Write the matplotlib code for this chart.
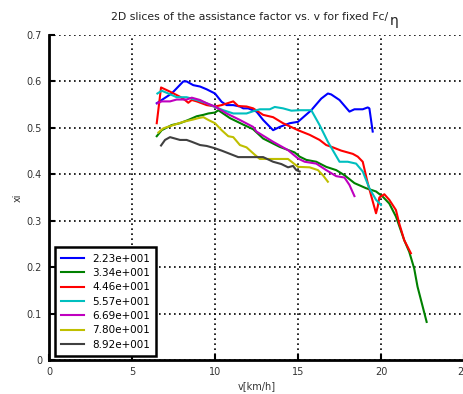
import matplotlib
matplotlib.use("Agg")
import matplotlib.pyplot as plt

plt.rcParams["font.family"] = ["DejaVu Sans"]

# ---------------------------------------------------------------------------
# Donnees (v en km/h, xi)
# ---------------------------------------------------------------------------
labels = ["2.23e+001", "3.34e+001", "4.46e+001", "5.57e+001",
          "6.69e+001", "7.80e+001", "8.92e+001"]
couleurs = ["#0000ff", "#008000", "#ff0000", "#00bfbf",
            "#bf00bf", "#bfbf00", "#404040"]

v_223 = [6.49, 7.39, 8.09, 8.29, 8.69, 9.10, 9.5, 10.0, 10.4, 10.7, 11.1,
         11.5, 11.7, 12.0, 12.5, 12.9, 13.5, 13.9, 14.5, 15.0, 15.8, 16.4,
         16.8, 17.0, 17.5, 18.1, 18.4, 18.9, 19.2, 19.3, 19.5]
xi_223 = [0.553, 0.574, 0.600, 0.600, 0.592, 0.589, 0.583, 0.574, 0.556,
          0.549, 0.549, 0.546, 0.542, 0.542, 0.535, 0.517, 0.495, 0.502,
          0.510, 0.513, 0.538, 0.563, 0.574, 0.572, 0.560, 0.535, 0.540,
          0.540, 0.544, 0.542, 0.492]

v_334 = [6.49, 6.79, 7.39, 7.89, 8.39, 8.9, 9.3, 9.6, 10.0, 10.2, 10.9,
         11.7, 12.3, 12.9, 13.9, 14.8, 15.1, 15.5, 16.1, 16.7, 17.3, 17.8,
         18.4, 19.1, 19.7, 20.1, 20.5, 20.9, 21.4, 21.7, 22.0, 22.2, 22.75]
xi_334 = [0.482, 0.495, 0.506, 0.510, 0.517, 0.525, 0.528, 0.531, 0.533,
          0.538, 0.521, 0.507, 0.497, 0.477, 0.459, 0.447, 0.438, 0.431,
          0.427, 0.416, 0.409, 0.398, 0.381, 0.370, 0.363, 0.352, 0.337,
          0.309, 0.258, 0.233, 0.197, 0.158, 0.082]

v_446 = [6.49, 6.75, 7.29, 7.89, 8.19, 8.39, 8.6, 8.9, 9.5, 10.0, 10.4,
         11.1, 11.4, 11.9, 12.3, 12.9, 13.5, 14.1, 15.0, 15.7, 16.3, 16.7,
         17.1, 17.6, 18.3, 18.6, 18.9, 19.2, 19.7, 19.8, 19.9, 20.2, 20.5,
         20.9, 21.1, 21.4, 21.8]
xi_446 = [0.510, 0.587, 0.578, 0.567, 0.560, 0.554, 0.560, 0.557, 0.549,
          0.546, 0.549, 0.557, 0.547, 0.546, 0.542, 0.528, 0.523, 0.510,
          0.495, 0.485, 0.474, 0.463, 0.458, 0.451, 0.444, 0.438, 0.427,
          0.381, 0.316, 0.330, 0.350, 0.357, 0.345, 0.323, 0.294, 0.258,
          0.230]

v_557 = [6.53, 6.79, 7.19, 7.69, 8.29, 8.9, 9.5, 10.0, 10.5, 11.1, 11.9,
         12.4, 12.7, 13.3, 13.6, 14.1, 14.6, 15.1, 15.8, 16.3, 16.8, 17.5,
         18.0, 18.5, 18.9, 19.3, 19.7, 20.0]
xi_557 = [0.574, 0.580, 0.574, 0.566, 0.566, 0.560, 0.553, 0.545, 0.538,
          0.531, 0.531, 0.537, 0.540, 0.540, 0.545, 0.542, 0.537, 0.538,
          0.538, 0.506, 0.470, 0.427, 0.427, 0.423, 0.406, 0.370, 0.345,
          0.334]

v_669 = [6.53, 6.79, 7.29, 7.69, 8.29, 8.6, 9.1, 9.5, 10.0, 10.7, 11.5,
         12.3, 12.5, 13.5, 14.4, 15.0, 15.4, 16.1, 16.7, 17.3, 17.8, 18.1,
         18.4]
xi_669 = [0.553, 0.557, 0.557, 0.561, 0.561, 0.565, 0.560, 0.553, 0.546,
          0.531, 0.517, 0.502, 0.492, 0.470, 0.452, 0.434, 0.427, 0.423,
          0.409, 0.396, 0.393, 0.377, 0.353]

v_780 = [6.59, 6.89, 7.49, 8.09, 8.69, 9.0, 9.3, 9.6, 10.0, 10.4, 10.8,
         11.1, 11.5, 11.9, 12.4, 12.7, 13.3, 14.4, 15.0, 15.7, 16.2, 16.5,
         16.8]
xi_780 = [0.490, 0.499, 0.506, 0.513, 0.518, 0.521, 0.523, 0.517, 0.510,
          0.495, 0.482, 0.480, 0.463, 0.458, 0.442, 0.433, 0.433, 0.433,
          0.416, 0.415, 0.409, 0.398, 0.384]

v_892 = [6.75, 6.99, 7.29, 7.59, 7.89, 8.29, 8.6, 9.1, 9.5, 10.0, 10.4,
         10.9, 11.4, 12.3, 12.9, 13.5, 14.0, 14.4, 14.7, 14.9, 15.1]
xi_892 = [0.462, 0.474, 0.480, 0.477, 0.474, 0.474, 0.470, 0.463, 0.461,
          0.456, 0.451, 0.444, 0.437, 0.437, 0.437, 0.427, 0.422, 0.415,
          0.418, 0.409, 0.406]

series = [(v_223, xi_223), (v_334, xi_334), (v_446, xi_446),
          (v_557, xi_557), (v_669, xi_669), (v_780, xi_780),
          (v_892, xi_892)]

x_ticks = [0, 5, 10, 15, 20, 25]
y_ticks = [0, 0.1, 0.2, 0.3, 0.4, 0.5, 0.6, 0.7]
y_ticklabels = ["0", "0.1", "0.2", "0.3", "0.4", "0.5", "0.6", "0.7"]

# ---------------------------------------------------------------------------
# Figure
# ---------------------------------------------------------------------------
fig = plt.figure(figsize=(4.63, 3.94), dpi=100)
ax = fig.add_axes([49 / 463, 34 / 394, 415 / 463, 325 / 394])

for (v, xi), lab, c in zip(series, labels, couleurs):
    ax.plot(v, xi, color=c, linewidth=1.5, label=lab)

ax.set_xlim(0, 25)
ax.set_ylim(0, 0.7)
ax.set_xticks(x_ticks)
ax.set_yticks(y_ticks)
ax.set_yticklabels(y_ticklabels)
ax.tick_params(direction="in", length=4, width=1.5, labelsize=7,
               colors="black", labelcolor="#333333", pad=5)
ax.grid(True, color="black", linestyle=(0, (1, 2)), linewidth=1.2)
ax.set_axisbelow(True)

for s in ("top", "right"):
    ax.spines[s].set_visible(False)
for s in ("left", "bottom"):
    ax.spines[s].set_linewidth(2.0)

ax.set_xlabel("v[km/h]", fontsize=7, color="#333333", labelpad=3)
ax.set_ylabel("xi", fontsize=7, color="#333333", labelpad=3)

fig.text(0.54, 0.945, "2D slices of the assistance factor vs. v for fixed Fc/",
         fontsize=7.8, ha="center", va="bottom", color="#222222")
fig.text(0.842, 0.928, "\u03b7", fontsize=10, ha="left", va="bottom",
         color="#222222")

leg = ax.legend(loc="lower left", fontsize=7.5, frameon=True, fancybox=False,
                handlelength=2.2, handletextpad=0.8, borderpad=0.6,
                labelspacing=0.42, borderaxespad=0.0,
                bbox_to_anchor=(0.014, 0.012))
leg.get_frame().set_edgecolor("black")
leg.get_frame().set_linewidth(1.8)
leg.get_frame().set_alpha(1.0)

fig.savefig("out.png", dpi=100)
